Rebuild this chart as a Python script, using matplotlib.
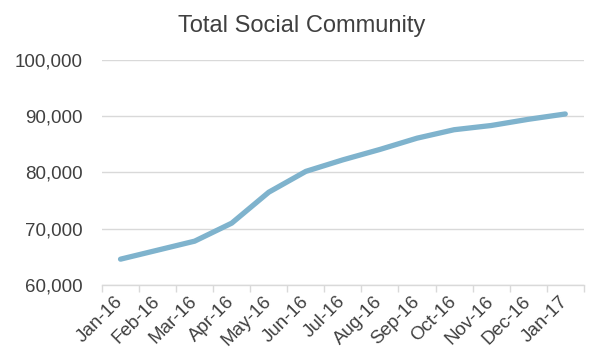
import matplotlib
matplotlib.use("Agg")
import matplotlib.pyplot as plt
import numpy as np

months = ["Jan-16", "Feb-16", "Mar-16", "Apr-16", "May-16", "Jun-16", "Jul-16",
          "Aug-16", "Sep-16", "Oct-16", "Nov-16", "Dec-16", "Jan-17"]
community = [64600, 66200, 67800, 71000, 76500, 80200, 82250, 84100, 86100,
             87600, 88350, 89450, 90400]
y_ticks = [60000, 70000, 80000, 90000, 100000]

plt.rcParams['font.family'] = ['Liberation Sans', 'DejaVu Sans']

fig = plt.figure(figsize=(6, 3.59), dpi=100)
ax = fig.add_axes([0.170, 0.206, 0.803, 0.627])

x = np.arange(len(months))
ax.plot(x, community, color="#7fb3cd", linewidth=3.8, solid_capstyle="round",
        solid_joinstyle="round", zorder=3)

ax.set_xlim(-0.5, len(months) - 0.5)
ax.set_ylim(60000, 100000)
ax.set_yticks(y_ticks)
ax.set_yticklabels([f"{v:,}" for v in y_ticks])
ax.yaxis.grid(True, color="#d9d9d9", linewidth=1.0)
ax.set_axisbelow(True)
ax.tick_params(axis="y", length=0, pad=14, labelsize=13.5, labelcolor="#404040")

ax.set_xticks(x)
ax.set_xticklabels(months, rotation=45, ha="right", va="center",
                   rotation_mode="anchor")
ax.tick_params(axis="x", which="major", length=0, pad=10, labelsize=13.5,
               labelcolor="#404040")
ax.set_xticks(np.arange(-0.5, len(months)), minor=True)
ax.tick_params(axis="x", which="minor", length=5, color="#d9d9d9", width=1)

for s in ["top", "right", "left"]:
    ax.spines[s].set_visible(False)
ax.spines["bottom"].set_color("#d9d9d9")
ax.spines["bottom"].set_linewidth(1.0)

fig.text(0.502, 0.928, "Total Social Community", ha="center", va="center",
         fontsize=17, color="#404040")

fig.savefig("out.png", dpi=100)
